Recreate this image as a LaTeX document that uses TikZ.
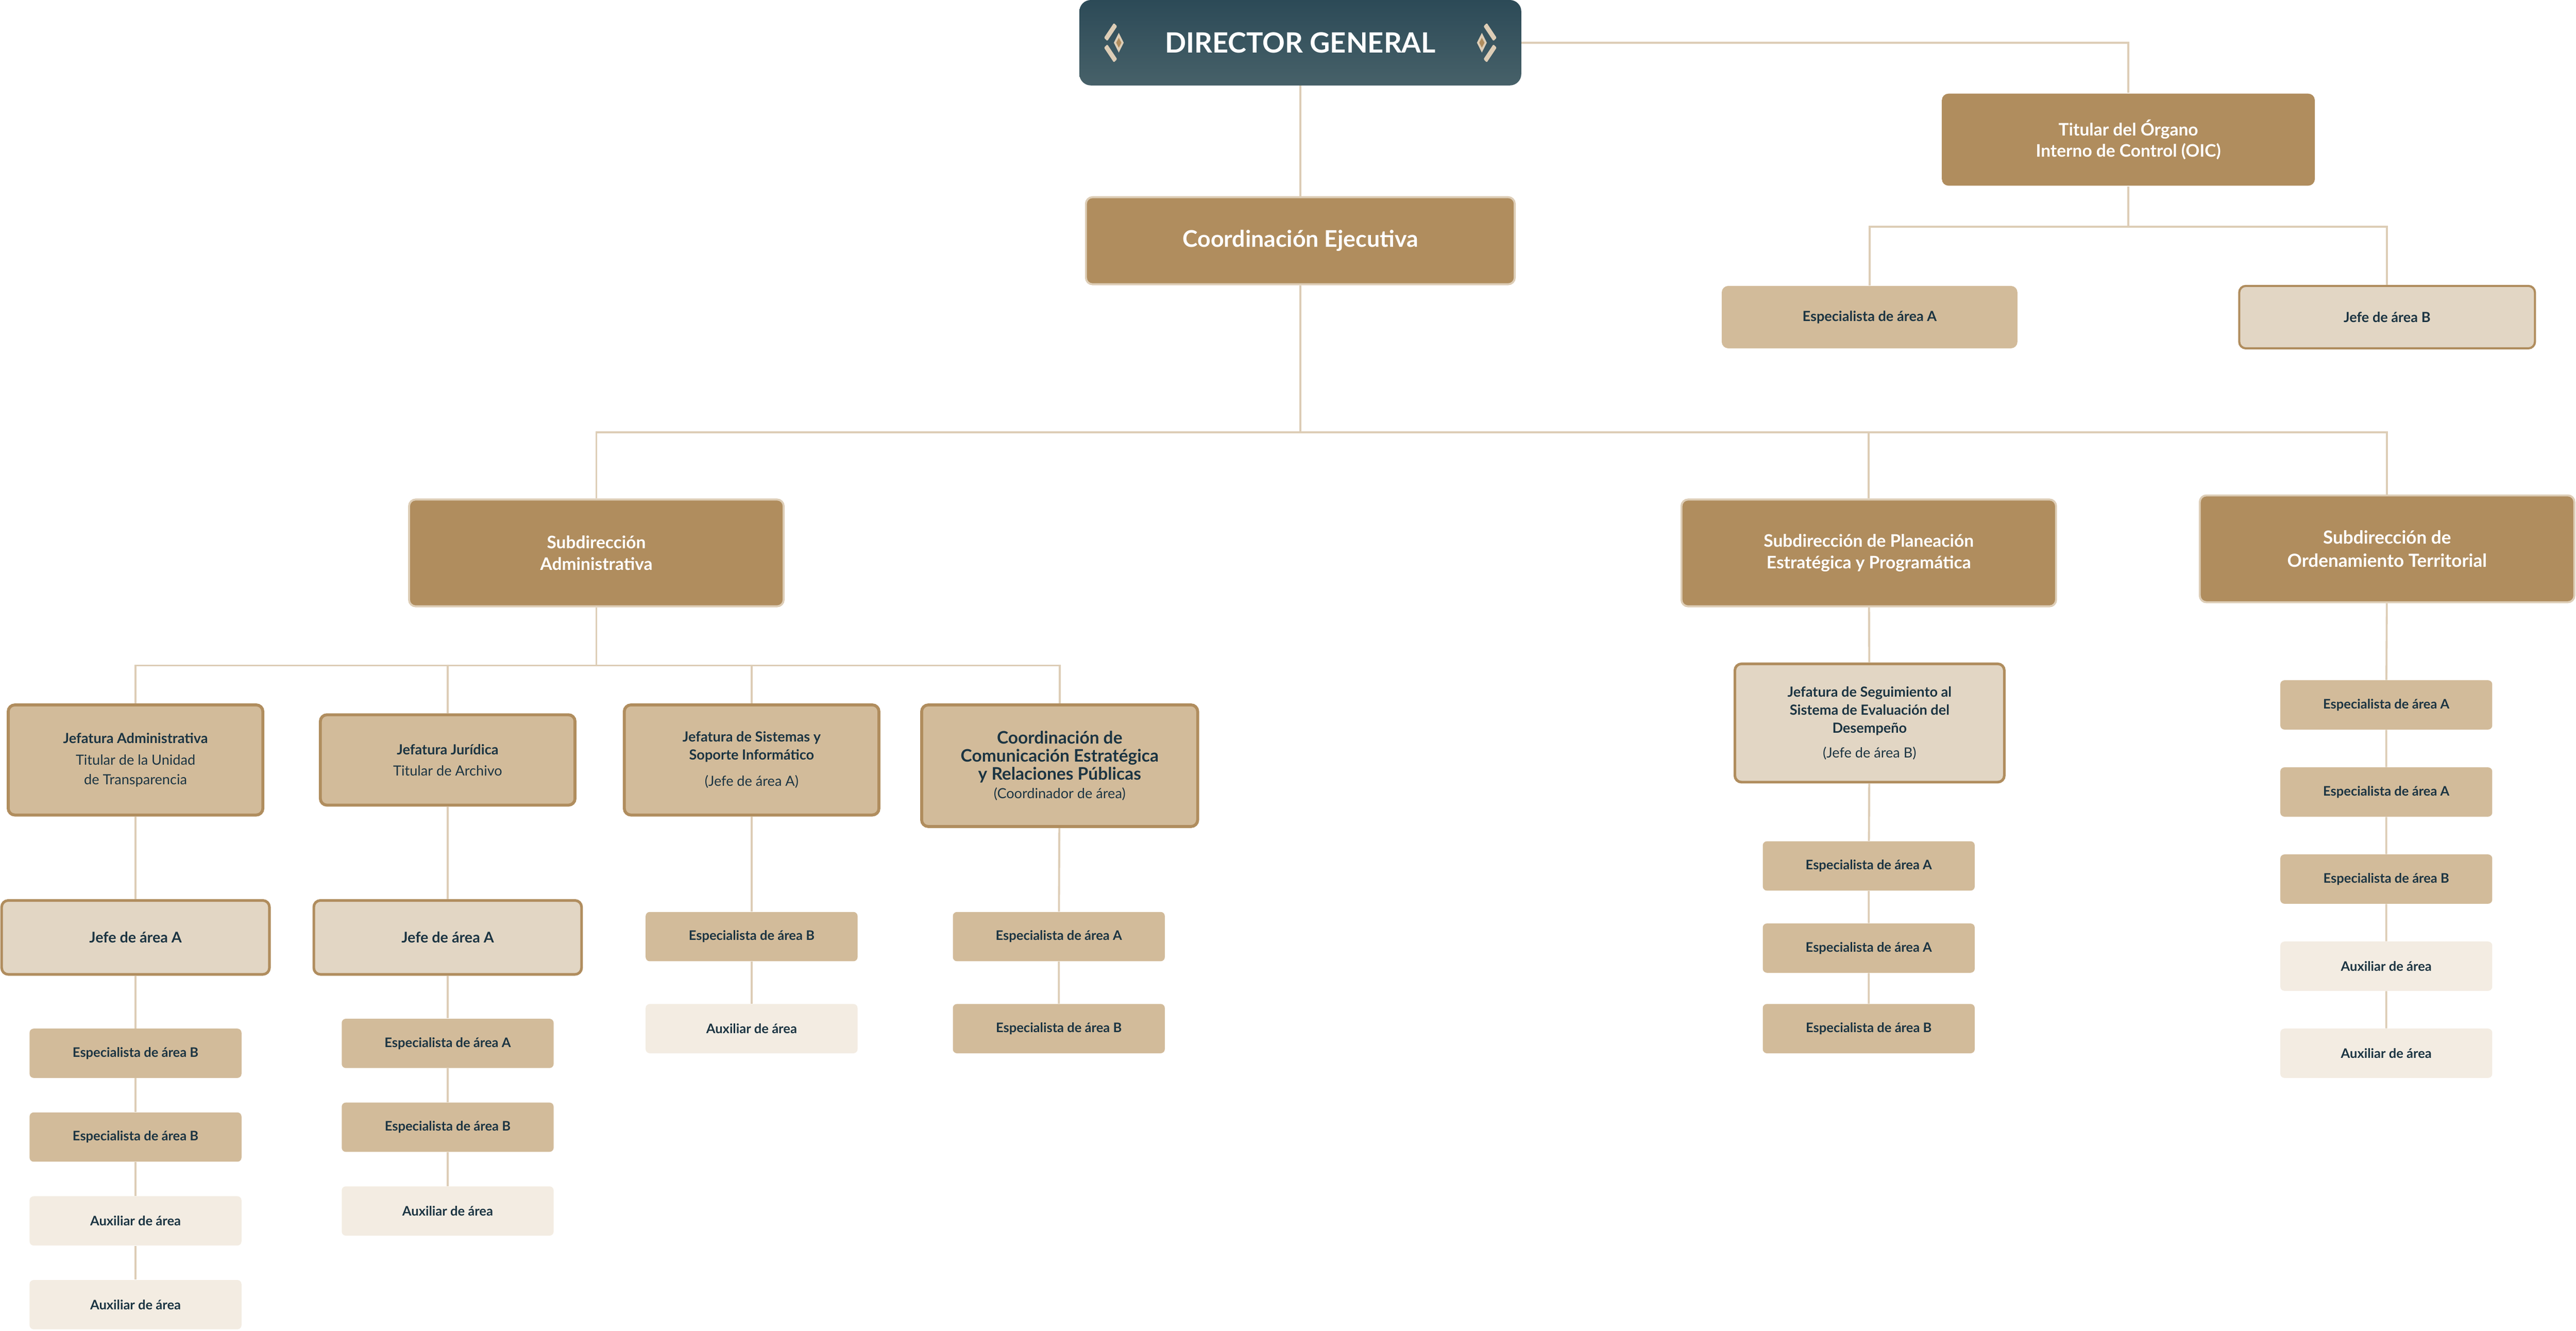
\documentclass[tikz,border=0pt]{standalone}
\usepackage{fontspec}
\setmainfont{Lato}
\usetikzlibrary{positioning}
\definecolor{dg1}{HTML}{2C4A57}
\definecolor{dg2}{HTML}{476169}
\definecolor{gold}{HTML}{B08D5E}
\definecolor{tan}{HTML}{D2BB9A}
\definecolor{beige}{HTML}{E2D6C4}
\definecolor{cream}{HTML}{F3ECE2}
\definecolor{ln}{HTML}{DDCDB6}
\definecolor{ink}{HTML}{1B3442}
\definecolor{orn}{HTML}{DDCDB6}
\tikzset{
 box/.style={rectangle,rounded corners=4pt,inner sep=1pt,align=center,text=ink},
 big/.style={box,fill=gold,draw=ln,line width=1.2pt,text=white,font=\bfseries},
 jef/.style={box,fill=tan,draw=gold,line width=1.8pt},
 jefl/.style={box,fill=beige,draw=gold,line width=1.6pt},
 sm/.style={box,rounded corners=2.5pt,minimum width=129pt,minimum height=30pt,font=\fontsize{8}{9}\selectfont\bfseries},
 smt/.style={sm,fill=tan},
 smc/.style={sm,fill=cream},
 conn/.style={draw=ln,line width=1.2pt},
}
\begin{document}
\begin{tikzpicture}[x=1pt,y=-1pt]
\useasboundingbox (0,0) rectangle (1568,810);
% top
\shade[top color=dg1,bottom color=dg2,rounded corners=7pt] (657,0) rectangle (926,52);
\node[text=white,font=\fontsize{17}{20}\selectfont\bfseries] (dg) at (791.5,26) {DIRECTOR GENERAL};
\path (657,0) coordinate (dgnw) (926,52) coordinate (dgse);
\foreach \cx/\s in {673/1,910/-1}{
 \fill[orn,rounded corners=0.5pt] (\cx+\s*5,14) -- (\cx+\s*7,16) -- (\cx+\s*1,25) -- (\cx-\s*1,23) -- cycle;
 \fill[orn,rounded corners=0.5pt] (\cx+\s*5,38) -- (\cx+\s*7,36) -- (\cx+\s*1,27) -- (\cx-\s*1,29) -- cycle;
 \fill[orn] (\cx+\s*8,20) -- (\cx+\s*11,26) -- (\cx+\s*8,32) -- (\cx+\s*5,26) -- cycle;
 \fill[gold] (\cx+\s*8,23) -- (\cx+\s*9.6,26) -- (\cx+\s*8,29) -- (\cx+\s*6.4,26) -- cycle;
}
\node[big,minimum width=261pt,minimum height=53pt,font=\fontsize{14}{16}\selectfont\bfseries] (ce) at (791.5,146.5) {Coordinación Ejecutiva};
\node[big,draw=none,minimum width=227pt,minimum height=56pt,font=\fontsize{10.5}{13}\selectfont\bfseries] (oic) at (1295.5,85) {Titular del Órgano\\Interno de Control (OIC)};
\node[box,fill=tan,minimum width=180pt,minimum height=38pt,font=\fontsize{8.5}{10}\selectfont\bfseries] (oa) at (1138,193) {Especialista de área A};
\node[box,fill=beige,draw=gold,line width=1.3pt,minimum width=180pt,minimum height=38pt,font=\fontsize{8.5}{10}\selectfont\bfseries] (ob) at (1453,193) {Jefe de área B};
\coordinate (b1) at (0,138);
\coordinate (b2) at (0,263);
\coordinate (b3) at (0,405);
% subdirecciones
\tikzset{sub/.style={big,minimum width=228pt,minimum height=65pt,font=\fontsize{10.5}{13}\selectfont\bfseries}}
\node[sub] (sa) at (363,336.5) {Subdirección\\Administrativa};
\node[sub] (sp) at (1137.5,336.5) {Subdirección de Planeación\\Estratégica y Programática};
\node[sub,font=\fontsize{11}{14}\selectfont\bfseries] (so) at (1453,334) {Subdirección de\\Ordenamiento Territorial};
% jefaturas
\node[jef,minimum width=155pt,minimum height=67pt,font=\fontsize{8.5}{12}\selectfont] (ja) at (82.5,462.5) {\textbf{Jefatura Administrativa}\\[1pt]Titular de la Unidad\\de Transparencia};
\node[jef,minimum width=155pt,minimum height=55pt,font=\fontsize{8.5}{12}\selectfont] (jj) at (272.5,462.5) {\textbf{Jefatura Jurídica}\\[1pt]Titular de Archivo};
\node[jef,minimum width=155pt,minimum height=67pt,font=\fontsize{8.5}{11}\selectfont] (js) at (457.5,462.5) {\textbf{Jefatura de Sistemas y}\\\textbf{Soporte Informático}\\[5pt](Jefe de área A)};
\node[jef,minimum width=168pt,minimum height=74pt,font=\fontsize{8.5}{11}\selectfont] (jc) at (645,466) {{\fontsize{10.5}{12}\selectfont\bfseries Coordinación de}\\{\fontsize{10.5}{12}\selectfont\bfseries Comunicación Estratégica}\\{\fontsize{10.5}{12}\selectfont\bfseries y Relaciones Públicas}\\(Coordinador de área)};
\node[jefl,minimum width=164pt,minimum height=72pt,font=\fontsize{8.5}{11}\selectfont] (jp) at (1138,440) {\textbf{Jefatura de Seguimiento al}\\\textbf{Sistema de Evaluación del}\\\textbf{Desempeño}\\[4pt](Jefe de área B)};
\node[jefl,minimum width=163pt,minimum height=45pt,font=\fontsize{9}{11}\selectfont\bfseries] (ka) at (82.5,570.5) {Jefe de área A};
\node[jefl,minimum width=163pt,minimum height=45pt,font=\fontsize{9}{11}\selectfont\bfseries] (kj) at (272.5,570.5) {Jefe de área A};
% small
\node[smt] (a1) at (82.5,641) {Especialista de área B};
\node[smt] (a2) at (82.5,692) {Especialista de área B};
\node[smc] (a3) at (82.5,743) {Auxiliar de área};
\node[smc] (a4) at (82.5,794) {Auxiliar de área};
\node[smt] (r1) at (272.5,635) {Especialista de área A};
\node[smt] (r2) at (272.5,686) {Especialista de área B};
\node[smc] (r3) at (272.5,737) {Auxiliar de área};
\node[smt] (s1) at (457.5,570) {Especialista de área B};
\node[smc] (s2) at (457.5,626) {Auxiliar de área};
\node[smt] (c1) at (644.5,570) {Especialista de área A};
\node[smt] (c2) at (644.5,626) {Especialista de área B};
\node[smt] (p1) at (1137.5,527) {Especialista de área A};
\node[smt] (p2) at (1137.5,577) {Especialista de área A};
\node[smt] (p3) at (1137.5,626) {Especialista de área B};
\node[smt] (o1) at (1452.5,429) {Especialista de área A};
\node[smt] (o2) at (1452.5,482) {Especialista de área A};
\node[smt] (o3) at (1452.5,535) {Especialista de área B};
\node[smc] (o4) at (1452.5,588) {Auxiliar de área};
\node[smc] (o5) at (1452.5,641) {Auxiliar de área};
% connectors
\begin{scope}[on background layer/.style={}]
\path[conn] (dgse|-dg) -- (oic.north|-dg) -- (oic.north);
\path[conn] (dg.south|-dgse) -- (ce.north);
\path[conn] (oic.south) -- (oic.south|-b1);
\path[conn] (oa.north) -- (oa.north|-b1) -- (ob.north|-b1) -- (ob.north);
\path[conn] (ce.south) -- (ce.south|-b2);
\path[conn] (sa.north) -- (sa.north|-b2) -- (so.north|-b2) -- (so.north);
\path[conn] (sp.north) -- (sp.north|-b2);
\path[conn] (sa.south) -- (sa.south|-b3);
\path[conn] (ja.north) -- (ja.north|-b3) -- (jc.north|-b3) -- (jc.north);
\path[conn] (jj.north) -- (jj.north|-b3);
\path[conn] (js.north) -- (js.north|-b3);
\path[conn] (ja) -- (ka) -- (a1) -- (a2) -- (a3) -- (a4);
\path[conn] (jj) -- (kj) -- (r1) -- (r2) -- (r3);
\path[conn] (js) -- (s1) -- (s2);
\path[conn] (jc) -- (c1) -- (c2);
\path[conn] (sp) -- (jp) -- (p1) -- (p2) -- (p3);
\path[conn] (so) -- (o1) -- (o2) -- (o3) -- (o4) -- (o5);
\end{scope}
\end{tikzpicture}
\end{document}
